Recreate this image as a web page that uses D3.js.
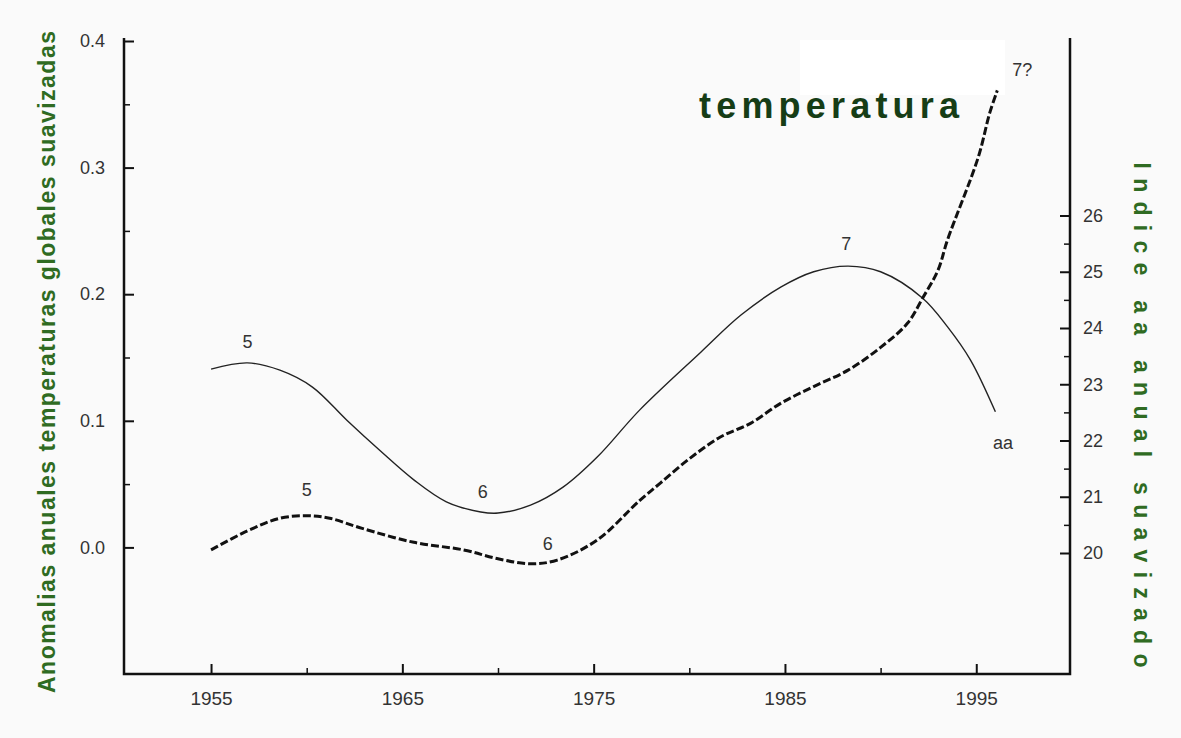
<!DOCTYPE html>
<html><head><meta charset="utf-8">
<script src="https://cdn.jsdelivr.net/npm/d3@7"></script>
<style>
body{margin:0;background:#fafafa;}
svg{display:block;}
text{font-family:Arial,"Liberation Sans",sans-serif;}
</style>
</head><body>
<svg id="c" width="1181" height="738"></svg>
<script>
// ---- data ----
const tempYears = [1955.0, 1956.9, 1958.6, 1960.0, 1961.2, 1962.9, 1965.6, 1968.2, 1970.0, 1971.7, 1973.1, 1975.2, 1977.4, 1978.5, 1980.0, 1981.6, 1983.2, 1984.8, 1986.5, 1988.3, 1990.0, 1991.4, 1992.2, 1993.0, 1993.5, 1995.1, 1995.7, 1996.1];
const tempVals  = [-0.002, 0.013, 0.023, 0.025, 0.023, 0.015, 0.004, -0.002, -0.009, -0.013, -0.010, 0.006, 0.037, 0.051, 0.070, 0.087, 0.098, 0.114, 0.127, 0.140, 0.158, 0.177, 0.197, 0.219, 0.243, 0.308, 0.343, 0.361];
const aaYears = [1955.0, 1956.9, 1958.6, 1960.3, 1962.1, 1963.8, 1965.6, 1967.3, 1969.1, 1970.0, 1971.7, 1973.4, 1975.2, 1977.4, 1980.6, 1982.7, 1984.8, 1986.5, 1988.3, 1990.0, 1992.2, 1993.5, 1994.7, 1996.0];
const aaVals  = [23.27, 23.38, 23.25, 22.95, 22.36, 21.83, 21.30, 20.91, 20.73, 20.71, 20.85, 21.17, 21.71, 22.54, 23.57, 24.23, 24.73, 25.00, 25.10, 25.00, 24.53, 24.02, 23.43, 22.51];

const xTickVals = [1955, 1965, 1975, 1985, 1995];
const xMinorVals = [1960, 1970, 1980, 1990];
const leftTickVals = [0.0, 0.1, 0.2, 0.3, 0.4];
const leftMinorVals = [0.05, 0.15, 0.25, 0.35];
const rightTickVals = [20, 21, 22, 23, 24, 25, 26];
const rightMinorVals = [20.5, 21.5, 22.5, 23.5, 24.5, 25.5];

const noteTexts = ["5", "5", "6", "6", "7", "7?", "aa"];
const noteYears = [1956.9, 1960.0, 1969.2, 1972.6, 1988.2, 1997.4, 1996.4];
const noteVals  = [23.75, 0.045, 21.08, 0.003, 25.49, 0.377, 21.96];
const noteAxis  = ["aa", "temp", "aa", "temp", "aa", "temp", "aa"];

const leftTitle = "Anomalias anuales temperaturas globales suavizadas";
const rightTitle = "Indice aa anual suavizado";
const chartTitle = "temperatura";

// ---- drawing ----
const svg = d3.select("#c");
const L = 124, R = 1070, T = 38, B = 674;
const x = d3.scaleLinear().domain([1950.45, 1999.9]).range([L, R]);
const yL = d3.scaleLinear().domain([-0.1, 0.4]).range([B, 41]);
const yR = d3.scaleLinear().domain([20, 26]).range([553, 215.5]);

svg.append("rect").attr("width", 1181).attr("height", 738).attr("fill", "#fafafa");
svg.append("rect").attr("x", 800).attr("y", 40).attr("width", 205).attr("height", 55).attr("fill", "#ffffff");

function styleAxis(g, fs) {
  g.select(".domain").remove();
  g.selectAll("text").attr("fill", "#333").style("font-size", fs + "px");
  g.selectAll("line").attr("stroke", "#111");
}

// bottom axis
const gx = svg.append("g").attr("transform", `translate(0,${B})`)
  .call(d3.axisBottom(x).tickValues(xTickVals).tickFormat(d3.format("d")).tickSizeInner(-10).tickSizeOuter(0).tickPadding(18));
styleAxis(gx, 19); gx.selectAll("line").attr("stroke-width", 2);
const gxm = svg.append("g").attr("transform", `translate(0,${B})`)
  .call(d3.axisBottom(x).tickValues(xMinorVals).tickFormat("").tickSizeInner(-6).tickSizeOuter(0));
styleAxis(gxm, 19); gxm.selectAll("line").attr("stroke-width", 1.5);

// left axis
const gl = svg.append("g").attr("transform", `translate(${L},0)`)
  .call(d3.axisLeft(yL).tickValues(leftTickVals).tickFormat(d3.format(".1f")).tickSizeInner(-10).tickSizeOuter(0).tickPadding(19));
styleAxis(gl, 18); gl.selectAll("line").attr("stroke-width", 2);
const glm = svg.append("g").attr("transform", `translate(${L},0)`)
  .call(d3.axisLeft(yL).tickValues(leftMinorVals).tickFormat("").tickSizeInner(-6).tickSizeOuter(0));
styleAxis(glm, 18); glm.selectAll("line").attr("stroke-width", 1.5);

// right axis
const gr = svg.append("g").attr("transform", `translate(${R},0)`)
  .call(d3.axisRight(yR).tickValues(rightTickVals).tickFormat(d3.format("d")).tickSizeInner(-10).tickSizeOuter(0).tickPadding(13));
styleAxis(gr, 18); gr.selectAll("line").attr("stroke-width", 2);
const grm = svg.append("g").attr("transform", `translate(${R},0)`)
  .call(d3.axisRight(yR).tickValues(rightMinorVals).tickFormat("").tickSizeInner(-6).tickSizeOuter(0));
styleAxis(grm, 18); grm.selectAll("line").attr("stroke-width", 1.5);

// frame lines
svg.append("path").attr("d", `M${L},${T}V${B}H${R}V${T}`)
  .attr("fill", "none").attr("stroke", "#111").attr("stroke-width", 2.5);

// series
const tempData = tempYears.map((yr, i) => ({yr, v: tempVals[i]}));
const aaData = aaYears.map((yr, i) => ({yr, v: aaVals[i]}));

svg.append("path").datum(aaData)
  .attr("d", d3.line().x(d => x(d.yr)).y(d => yR(d.v)).curve(d3.curveCatmullRom.alpha(0.5)))
  .attr("fill", "none").attr("stroke", "#222").attr("stroke-width", 1.4);

svg.append("path").datum(tempData)
  .attr("d", d3.line().x(d => x(d.yr)).y(d => yL(d.v)).curve(d3.curveCatmullRom.alpha(0.5)))
  .attr("fill", "none").attr("stroke", "#111").attr("stroke-width", 3)
  .attr("stroke-dasharray", "8,3");

// annotations
svg.append("g").selectAll("text").data(noteTexts).join("text")
  .attr("x", (d, i) => x(noteYears[i]))
  .attr("y", (d, i) => (noteAxis[i] === "aa" ? yR(noteVals[i]) : yL(noteVals[i])))
  .attr("text-anchor", "middle").attr("dominant-baseline", "central")
  .attr("fill", "#333").style("font-size", "18px")
  .text(d => d);

// titles
svg.append("text")
  .attr("transform", "translate(55,362) rotate(-90)")
  .attr("text-anchor", "middle")
  .attr("fill", "#2f6b22").style("font-size", "23px").style("font-weight", "bold")
  .attr("textLength", 662).attr("lengthAdjust", "spacing")
  .text(leftTitle);

svg.append("text")
  .attr("transform", "translate(1134,415) rotate(90)")
  .attr("text-anchor", "middle")
  .attr("fill", "#2f6b22").style("font-size", "23px").style("font-weight", "bold")
  .attr("textLength", 505).attr("lengthAdjust", "spacing")
  .text(rightTitle);

svg.append("text")
  .attr("x", 699).attr("y", 118)
  .attr("fill", "#163d16").style("font-size", "36px").style("font-weight", "bold")
  .attr("textLength", 260).attr("lengthAdjust", "spacing")
  .text(chartTitle);
</script>
</body></html>
